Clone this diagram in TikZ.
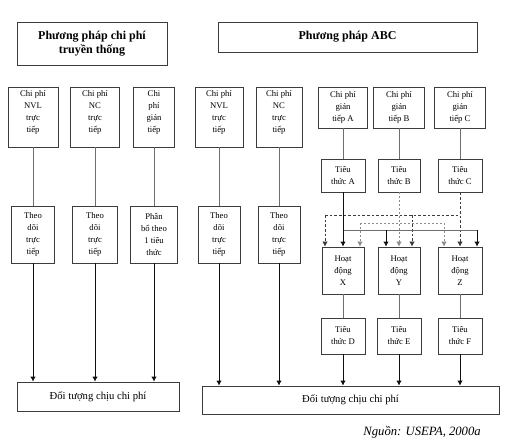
\documentclass[tikz,border=0pt]{standalone}
\usepackage{fontspec}
\setmainfont{Liberation Serif}
\usetikzlibrary{arrows.meta}

\begin{document}
\begin{tikzpicture}[x=0.75pt,y=0.75pt,yscale=-1,xscale=1,
  box/.style={draw={rgb, 255:red, 60; green, 60; blue, 60 }, line width=0.6pt, align=center, inner sep=1pt, font=\fontsize{6.5}{9}\selectfont},
  headbox/.style={box, font=\fontsize{9}{10.5}\selectfont\bfseries},
  basebox/.style={box, font=\fontsize{8}{10}\selectfont},
  ln/.style={color={rgb, 255:red, 110; green, 110; blue, 110 }, line width=0.6pt},
  tip/.style={-{Latex[length=3.8pt,width=4.2pt]}},
  arr/.style={color={rgb, 255:red, 15; green, 15; blue, 15 }, line width=0.7pt, tip},
  dashB/.style={color={rgb, 255:red, 140; green, 140; blue, 140 }, line width=0.6pt, dash pattern=on 1.5pt off 1.5pt},
  dashC/.style={color={rgb, 255:red, 60; green, 60; blue, 60 }, line width=0.6pt, dash pattern=on 2pt off 1.5pt}]
\useasboundingbox (0,0) rectangle (505,446);

% Traditional method
\node [headbox, minimum width=112.5, minimum height=32.25] (trad) at (92,43.5) {Phương pháp chi phí\\truyền thống};
\node [box, minimum width=37.5, minimum height=45] (nvl) at (33,117) {Chi phí\\NVL\\trực\\tiếp\\~};
\node [box, minimum width=36.75, minimum height=45] (nc) at (95,117) {Chi phí\\NC\\trực\\tiếp\\~};
\node [box, minimum width=30.75, minimum height=45] (gt) at (154,117) {Chi\\phí\\gián\\tiếp\\~};
\node [box, minimum width=32.25, minimum height=42.75] (theoA) at (33,234.5) {Theo\\dõi\\trực\\tiếp};
\node [box, minimum width=33.75, minimum height=42.75] (theoB) at (95,234.5) {Theo\\dõi\\trực\\tiếp};
\node [box, minimum width=35.25, minimum height=42.75] (phanbo) at (154,234.5) {Phân\\bổ theo\\1 tiêu\\thức};
\node [basebox, minimum width=121.5, minimum height=21.75] (dtA) at (98,396.5) {Đối tượng chịu chi phí};

\draw [ln] (nvl) -- (theoA);
\draw [ln] (nc) -- (theoB);
\draw [ln] (gt) -- (phanbo);
\draw [arr] (theoA) -- (theoA |- dtA.north);
\draw [arr] (theoB) -- (theoB |- dtA.north);
\draw [arr] (phanbo) -- (phanbo |- dtA.north);

% ABC method
\node [headbox, minimum width=194.25, minimum height=22.5] (abc) at (347.5,37) {Phương pháp ABC};
\node [box, minimum width=36, minimum height=45] (abcNvl) at (219,117) {Chi phí\\NVL\\trực\\tiếp\\~};
\node [box, minimum width=34.5, minimum height=45] (abcNc) at (279,117) {Chi phí\\NC\\trực\\tiếp\\~};
\node [box, minimum width=31.5, minimum height=42.75] (abcTheoA) at (219,234.5) {Theo\\dõi\\trực\\tiếp};
\node [box, minimum width=31.5, minimum height=42.75] (abcTheoB) at (279,234.5) {Theo\\dõi\\trực\\tiếp};
\node [box, minimum width=36.75, minimum height=30.75] (gtA) at (343,107.5) {Chi phí\\gián\\tiếp A};
\node [box, minimum width=38.25, minimum height=30.75] (gtB) at (399,107.5) {Chi phí\\gián\\tiếp B};
\node [box, minimum width=38.25, minimum height=30.75] (gtC) at (460,107.5) {Chi phí\\gián\\tiếp C};
\node [box, minimum width=33, minimum height=24.75] (ttA) at (343,175.5) {Tiêu\\thức A};
\node [box, minimum width=31.5, minimum height=24.75] (ttB) at (399,175.5) {Tiêu\\thức B};
\node [box, minimum width=33, minimum height=24.75] (ttC) at (460,175.5) {Tiêu\\thức C};
\node [box, minimum width=31.5, minimum height=35.25] (hdX) at (343,270.5) {Hoạt\\động\\X};
\node [box, minimum width=31.5, minimum height=35.25] (hdY) at (399,270.5) {Hoạt\\động\\Y};
\node [box, minimum width=33, minimum height=35.25] (hdZ) at (460,270.5) {Hoạt\\động\\Z};
\node [box, minimum width=33, minimum height=27] (ttD) at (343,336) {Tiêu\\thức D};
\node [box, minimum width=33, minimum height=27] (ttE) at (399,336) {Tiêu\\thức E};
\node [box, minimum width=33, minimum height=27] (ttF) at (460,336) {Tiêu\\thức F};
\node [basebox, minimum width=222.75, minimum height=21] (dtB) at (350.5,400) {Đối tượng chịu chi phí};

\draw [ln] (abcNvl) -- (abcTheoA);
\draw [ln] (abcNc) -- (abcTheoB);
\draw [ln] (gtA) -- (ttA);
\draw [ln] (gtB) -- (ttB);
\draw [ln] (gtC) -- (ttC);

% branch points
\coordinate (cX) at (325,215);
\coordinate (cY) at (412,215);
\coordinate (cZ) at (460,215);
\coordinate (bX) at (360,223);
\coordinate (bZ) at (444,223);
\coordinate (aX) at (343,230);
\coordinate (aY) at (386,230);
\coordinate (aZ) at (477,230);

% criterion C
\draw [dashC] (cX) -- (cZ);
\draw [dashC, tip] (ttC) -- (hdZ);
\draw [dashC, tip] (cX) -- (cX |- hdX.north);
\draw [dashC, tip] (cY) -- (cY |- hdY.north);
% criterion B
\draw [dashB] (bX) -- (bZ);
\draw [dashB, tip] (ttB) -- (hdY);
\draw [dashB, tip] (bX) -- (bX |- hdX.north);
\draw [dashB, tip] (bZ) -- (bZ |- hdZ.north);
% criterion A
\draw [ln] (aX) -- (aZ);
\draw [arr] (ttA) -- (hdX);
\draw [arr] (aY) -- (aY |- hdY.north);
\draw [arr] (aZ) -- (aZ |- hdZ.north);

\draw [ln] (hdX) -- (ttD);
\draw [ln] (hdY) -- (ttE);
\draw [ln] (hdZ) -- (ttF);
\draw [arr] (abcTheoA) -- (abcTheoA |- dtB.north);
\draw [arr] (abcTheoB) -- (abcTheoB |- dtB.north);
\draw [arr] (ttD) -- (ttD |- dtB.north);
\draw [arr] (ttE) -- (ttE |- dtB.north);
\draw [arr] (ttF) -- (ttF |- dtB.north);

% Text Node
\node [anchor=east, inner sep=0.75pt, font=\fontsize{9.5}{11}\selectfont\itshape] (src) at (482,432) {Nguồn: USEPA, 2000a};

\end{tikzpicture}
\end{document}
